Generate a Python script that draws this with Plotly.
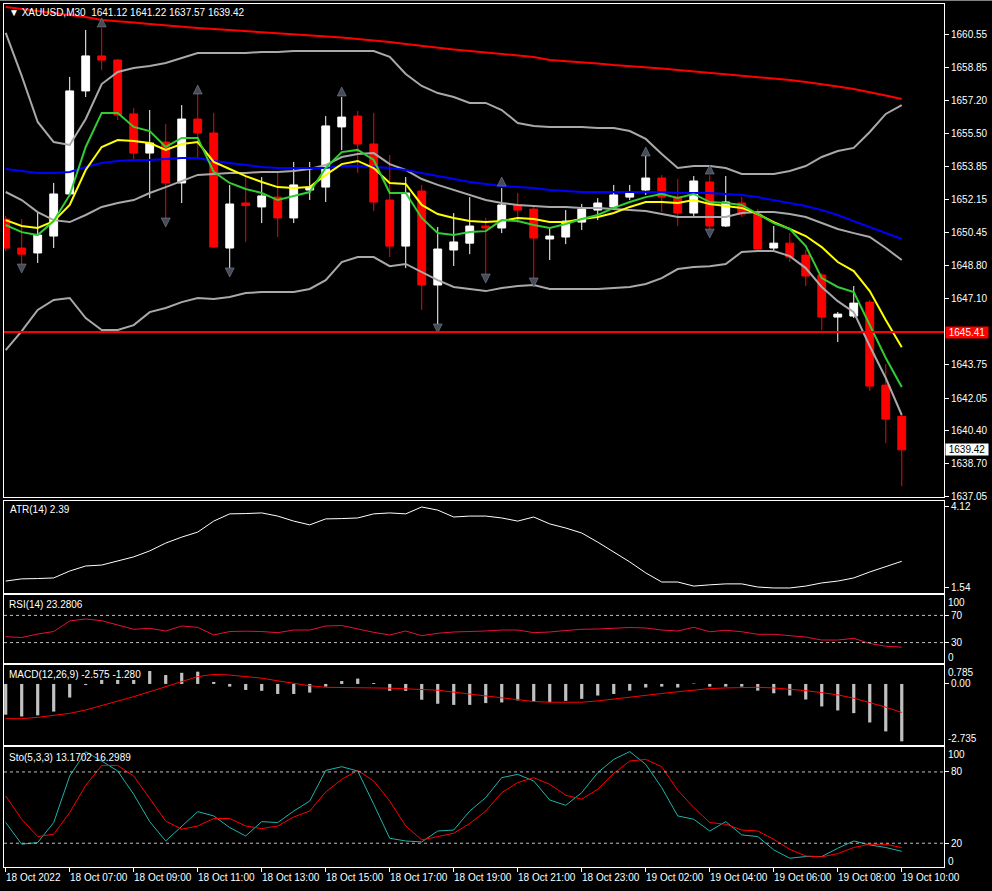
import plotly.graph_objects as go
from plotly.subplots import make_subplots

# ---------------- data ----------------
times = [f"18 Oct {h:02d}:{m:02d}" for h in range(5, 24) for m in (0, 30)]
times += [f"19 Oct {h:02d}:{m:02d}" for h in range(1, 11) for m in (0, 30)][:19]

tick_labels = ["18 Oct 2022", "18 Oct 07:00", "18 Oct 09:00", "18 Oct 11:00", "18 Oct 13:00",
               "18 Oct 15:00", "18 Oct 17:00", "18 Oct 19:00", "18 Oct 21:00", "18 Oct 23:00",
               "19 Oct 02:00", "19 Oct 04:00", "19 Oct 06:00", "19 Oct 08:00", "19 Oct 10:00"]
tick_idx = list(range(0, 57, 4))

opens = [1651.15, 1649.68, 1649.43, 1650.29, 1652.43, 1657.67, 1659.45, 1659.24, 1656.50, 1654.51,
         1655.07, 1652.99, 1656.24, 1655.53, 1649.68, 1651.97, 1651.77, 1652.27, 1651.21, 1652.63,
         1652.78, 1655.84, 1656.39, 1654.97, 1652.12, 1649.78, 1652.58, 1647.80, 1649.58, 1649.93,
         1650.80, 1650.70, 1651.87, 1651.66, 1650.14, 1650.24, 1651.00, 1651.61, 1651.77, 1652.27,
         1652.63, 1653.24, 1652.27, 1651.46, 1653.04, 1650.80, 1651.97, 1651.41, 1649.68, 1649.93,
         1649.32, 1648.31, 1646.17, 1646.22, 1646.93, 1642.71, 1641.12]
highs = [1651.31, 1651.15, 1651.51, 1652.99, 1658.38, 1660.77, 1660.87, 1659.29, 1656.80, 1656.70,
         1655.99, 1656.95, 1657.51, 1656.55, 1652.89, 1653.29, 1653.29, 1653.50, 1654.06, 1654.06,
         1656.39, 1657.36, 1656.65, 1656.55, 1654.41, 1653.29, 1652.89, 1650.75, 1651.46, 1652.27,
         1651.21, 1652.73, 1652.48, 1651.87, 1650.70, 1651.61, 1651.92, 1652.22, 1652.89, 1652.89,
         1654.41, 1653.39, 1653.19, 1653.34, 1653.39, 1653.34, 1652.27, 1651.66, 1650.80, 1650.44,
         1649.58, 1648.41, 1646.43, 1647.75, 1647.04, 1643.78, 1641.22]
lows = [1649.53, 1648.71, 1648.92, 1649.68, 1652.33, 1657.36, 1658.73, 1656.19, 1654.21, 1652.22,
        1651.00, 1651.97, 1654.26, 1649.68, 1648.61, 1649.99, 1650.95, 1650.24, 1650.95, 1652.12,
        1652.02, 1654.66, 1653.50, 1651.56, 1649.22, 1648.66, 1646.53, 1645.76, 1648.77, 1649.37,
        1648.26, 1650.44, 1650.95, 1648.10, 1649.07, 1649.88, 1650.60, 1651.10, 1651.61, 1652.12,
        1652.38, 1651.51, 1650.80, 1651.21, 1650.60, 1650.75, 1651.26, 1649.48, 1649.58, 1648.97,
        1647.75, 1645.51, 1644.90, 1646.12, 1642.41, 1639.76, 1637.57]
closes = [1649.68, 1649.37, 1650.34, 1652.43, 1657.67, 1659.45, 1659.24, 1656.45, 1654.51, 1655.02,
          1652.99, 1656.24, 1655.53, 1649.73, 1651.92, 1651.84, 1652.33, 1651.21, 1652.89, 1652.78,
          1655.89, 1656.34, 1654.97, 1652.02, 1649.78, 1652.48, 1647.80, 1649.63, 1649.99, 1650.80,
          1650.70, 1651.87, 1651.61, 1650.19, 1650.29, 1651.05, 1651.66, 1651.97, 1652.38, 1652.48,
          1653.24, 1652.27, 1651.46, 1653.09, 1650.80, 1652.02, 1651.41, 1649.63, 1649.93, 1649.22,
          1648.26, 1646.17, 1646.32, 1646.88, 1642.66, 1640.98, 1639.42]

ma_red = [1661.94, 1661.84, 1661.74, 1661.63, 1661.53, 1661.43, 1661.28, 1661.23, 1661.15, 1661.07,
          1661.00, 1660.92, 1660.87, 1660.82, 1660.77, 1660.72, 1660.67, 1660.62, 1660.57, 1660.51,
          1660.46, 1660.39, 1660.31, 1660.24, 1660.16, 1660.06, 1659.96, 1659.85, 1659.78, 1659.70,
          1659.62, 1659.55, 1659.47, 1659.40, 1659.24, 1659.19, 1659.14, 1659.07, 1658.99, 1658.94,
          1658.89, 1658.81, 1658.73, 1658.66, 1658.58, 1658.53, 1658.46, 1658.38, 1658.30, 1658.23,
          1658.12, 1658.02, 1657.90, 1657.77, 1657.62, 1657.44, 1657.26]
ma_blue = [1653.70, 1653.60, 1653.50, 1653.50, 1653.55, 1653.80, 1654.00, 1654.11, 1654.16, 1654.16,
           1654.21, 1654.26, 1654.26, 1654.11, 1654.00, 1653.90, 1653.80, 1653.75, 1653.75, 1653.75,
           1653.75, 1653.85, 1653.85, 1653.80, 1653.75, 1653.65, 1653.50, 1653.34, 1653.19, 1653.04,
           1652.94, 1652.83, 1652.78, 1652.73, 1652.63, 1652.58, 1652.53, 1652.53, 1652.53, 1652.53,
           1652.53, 1652.53, 1652.48, 1652.48, 1652.48, 1652.43, 1652.38, 1652.27, 1652.12, 1651.97,
           1651.82, 1651.61, 1651.36, 1651.05, 1650.75, 1650.44, 1650.14]
ma_yellow = [1651.10, 1650.80, 1650.70, 1651.05, 1651.87, 1653.65, 1654.82, 1655.17, 1655.12, 1655.02,
             1654.67, 1654.97, 1655.07, 1654.06, 1653.70, 1653.34, 1653.04, 1652.78, 1652.73, 1652.78,
             1653.40, 1653.95, 1654.11, 1653.75, 1652.99, 1652.94, 1651.87, 1651.41, 1651.21, 1651.05,
             1651.00, 1651.05, 1651.21, 1651.16, 1651.00, 1651.00, 1651.16, 1651.26, 1651.46, 1651.77,
             1652.02, 1652.02, 1651.97, 1652.12, 1651.92, 1651.82, 1651.72, 1651.41, 1651.00, 1650.65,
             1650.29, 1649.73, 1648.97, 1648.51, 1647.49, 1646.02, 1644.63]
ma_green = [1650.85, 1650.49, 1650.34, 1651.05, 1652.38, 1654.82, 1656.55, 1656.55, 1655.84, 1655.63,
            1654.82, 1655.28, 1655.28, 1653.55, 1652.99, 1652.68, 1652.48, 1652.12, 1652.33, 1652.53,
            1653.75, 1654.56, 1654.67, 1654.16, 1652.48, 1652.48, 1651.21, 1650.44, 1650.34, 1650.49,
            1650.54, 1651.10, 1651.05, 1650.85, 1650.70, 1650.90, 1651.16, 1651.36, 1651.72, 1652.02,
            1652.27, 1652.43, 1652.22, 1652.43, 1652.02, 1651.97, 1651.87, 1651.41, 1650.95, 1650.65,
            1649.78, 1648.15, 1647.70, 1647.44, 1645.76, 1644.09, 1642.61]
bb_upper = [1660.62, 1658.43, 1656.09, 1655.07, 1654.92, 1656.24, 1658.02, 1658.63, 1658.84, 1658.94,
            1659.09, 1659.35, 1659.60, 1659.60, 1659.60, 1659.60, 1659.65, 1659.65, 1659.70, 1659.70,
            1659.70, 1659.70, 1659.70, 1659.70, 1659.40, 1658.53, 1657.92, 1657.56, 1657.36, 1657.06,
            1657.06, 1656.70, 1656.04, 1655.89, 1655.84, 1655.84, 1655.84, 1655.78, 1655.78, 1655.63,
            1655.23, 1654.46, 1653.75, 1653.85, 1653.85, 1653.75, 1653.45, 1653.45, 1653.45, 1653.60,
            1653.85, 1654.31, 1654.61, 1654.77, 1655.58, 1656.50, 1656.95]
bb_middle = [1652.53, 1652.12, 1651.51, 1651.10, 1651.00, 1651.36, 1651.77, 1651.97, 1652.12, 1652.48,
             1652.78, 1653.09, 1653.40, 1653.45, 1653.50, 1653.50, 1653.55, 1653.55, 1653.60, 1653.70,
             1653.90, 1654.31, 1654.46, 1654.51, 1653.95, 1653.65, 1653.19, 1652.89, 1652.63, 1652.38,
             1652.12, 1651.97, 1651.87, 1651.82, 1651.77, 1651.77, 1651.72, 1651.72, 1651.67, 1651.61,
             1651.56, 1651.41, 1651.26, 1651.26, 1651.26, 1651.26, 1651.46, 1651.51, 1651.51, 1651.41,
             1651.26, 1650.95, 1650.65, 1650.44, 1650.24, 1649.68, 1649.07]
bb_lower = [1644.49, 1645.46, 1646.53, 1647.04, 1647.14, 1646.12, 1645.51, 1645.51, 1645.76, 1646.42,
            1646.63, 1646.93, 1647.14, 1647.09, 1647.19, 1647.39, 1647.44, 1647.44, 1647.44, 1647.60,
            1648.05, 1648.97, 1649.22, 1649.22, 1648.76, 1648.87, 1648.46, 1648.05, 1647.70, 1647.60,
            1647.49, 1647.65, 1647.75, 1647.80, 1647.60, 1647.60, 1647.60, 1647.60, 1647.65, 1647.70,
            1647.85, 1648.15, 1648.61, 1648.71, 1648.76, 1648.87, 1649.48, 1649.53, 1649.53, 1649.27,
            1648.66, 1647.70, 1646.98, 1646.42, 1644.70, 1643.07, 1641.19]

frac_up_idx = [6, 12, 21, 31, 40, 44]
frac_up_val = [1661.38, 1657.97, 1657.87, 1653.29, 1654.82, 1653.90]
frac_dn_idx = [1, 10, 14, 27, 30, 33, 44]
frac_dn_val = [1648.41, 1650.75, 1648.21, 1645.36, 1647.90, 1647.70, 1650.19]

hline_price = 1645.41
last_price = 1639.42
price_ticks = [1660.55, 1658.85, 1657.20, 1655.50, 1653.85, 1652.15, 1650.45, 1648.80,
               1647.10, 1643.75, 1642.05, 1640.40, 1638.70, 1637.05]

atr = [1.76, 1.83, 1.84, 1.86, 2.08, 2.24, 2.27, 2.40, 2.53, 2.72,
       2.97, 3.16, 3.32, 3.67, 3.90, 3.91, 3.93, 3.83, 3.67, 3.55,
       3.74, 3.75, 3.77, 3.90, 3.93, 3.90, 4.12, 4.02, 3.80, 3.83,
       3.83, 3.77, 3.67, 3.80, 3.58, 3.45, 3.29, 3.00, 2.69, 2.37,
       2.02, 1.73, 1.73, 1.60, 1.64, 1.67, 1.67, 1.57, 1.54, 1.54,
       1.60, 1.70, 1.76, 1.86, 2.05, 2.21, 2.39]
rsi = [38.7, 37.5, 42.6, 46.3, 61.8, 64.7, 62.2, 55.9, 49.6, 51.0,
       47.1, 54.4, 52.5, 41.2, 46.3, 46.8, 46.3, 44.6, 48.5, 48.5,
       54.4, 55.1, 50.0, 45.1, 41.2, 47.1, 40.1, 43.7, 45.6, 45.9,
       47.1, 48.5, 48.5, 44.6, 45.6, 47.8, 49.6, 50.0, 50.7, 52.2,
       51.5, 48.5, 47.1, 52.5, 46.0, 48.1, 46.0, 42.2, 42.2, 40.4,
       38.2, 33.8, 33.8, 36.3, 28.7, 24.7, 23.28]
macd = [-1.38, -1.46, -1.41, -1.24, -0.61, -0.05, 0.18, 0.18, 0.18, 0.58,
        0.40, 0.50, 0.55, 0.09, -0.12, -0.27, -0.31, -0.45, -0.45, -0.39,
        -0.12, 0.13, 0.24, 0.04, -0.31, -0.31, -0.71, -0.89, -0.94, -0.94,
        -0.86, -0.83, -0.74, -0.79, -0.82, -0.76, -0.67, -0.52, -0.45, -0.30,
        -0.16, -0.12, -0.16, 0.02, -0.12, -0.12, -0.12, -0.30, -0.42, -0.52,
        -0.70, -1.01, -1.19, -1.31, -1.73, -2.13, -2.575]
macd_signal = [-1.56, -1.56, -1.50, -1.42, -1.32, -1.17, -0.98, -0.78, -0.57, -0.35,
               -0.12, 0.10, 0.33, 0.43, 0.40, 0.33, 0.26, 0.14, 0.02, -0.08,
               -0.15, -0.17, -0.18, -0.18, -0.19, -0.21, -0.23, -0.28, -0.37, -0.46,
               -0.55, -0.64, -0.72, -0.79, -0.82, -0.82, -0.82, -0.76, -0.67, -0.59,
               -0.51, -0.43, -0.35, -0.28, -0.21, -0.18, -0.16, -0.15, -0.18, -0.23,
               -0.30, -0.39, -0.49, -0.64, -0.83, -1.04, -1.28]
sto_k = [37.4, 19.2, 20.6, 37.4, 76.6, 97.0, 89.2, 80.8, 61.2, 38.2,
         21.9, 34.5, 46.6, 43.0, 33.2, 26.1, 38.2, 37.4, 47.1, 55.5,
         81.3, 84.4, 80.8, 52.8, 24.2, 21.9, 21.1, 30.3, 31.1, 47.1,
         58.4, 75.2, 78.0, 72.4, 56.4, 51.9, 62.6, 79.4, 90.6, 97.1,
         86.4, 66.8, 43.0, 40.2, 30.3, 38.2, 27.0, 25.6, 14.4, 7.4,
         8.8, 8.8, 15.8, 21.9, 18.6, 16.4, 13.17]
sto_d = [59.8, 40.2, 25.6, 27.6, 45.8, 68.7, 85.5, 85.5, 76.6, 57.1,
         38.7, 31.8, 34.5, 40.8, 40.8, 34.5, 32.3, 34.5, 42.1, 47.1,
         63.1, 73.8, 81.3, 72.4, 55.5, 34.5, 22.8, 25.6, 28.4, 36.6,
         47.1, 62.6, 71.0, 75.2, 69.6, 60.4, 57.1, 65.4, 78.8, 89.2,
         90.6, 84.4, 64.6, 50.1, 37.4, 36.0, 31.1, 30.3, 23.3, 14.9,
         9.3, 8.5, 11.3, 16.4, 19.2, 19.2, 16.30]

title_text = "\u25BC XAUUSD,M30  1641.12 1641.22 1637.57 1639.42"
atr_text = "ATR(14) 2.39"
rsi_text = "RSI(14) 23.2806"
macd_text = "MACD(12,26,9) -2.575 -1.280"
sto_text = "Sto(5,3,3) 13.1702 16.2989"

# ---------------- figure ----------------
FONT = "Liberation Sans, Arial, sans-serif"
FS = 10
GRAY = "#A9A9A9"

fig = make_subplots(rows=5, cols=1, shared_xaxes=True, vertical_spacing=0)

fig.add_trace(go.Candlestick(
    x=times, open=opens, high=highs, low=lows, close=closes,
    increasing=dict(line=dict(color="#FFFFFF", width=1), fillcolor="#FFFFFF"),
    decreasing=dict(line=dict(color="#FF0000", width=1), fillcolor="#FF0000"),
    whiskerwidth=0, hoverinfo="skip", showlegend=False), row=1, col=1)

for series, color, w in [(bb_upper, GRAY, 2), (bb_middle, GRAY, 2), (bb_lower, GRAY, 2),
                         (ma_red, "#FF0000", 2), (ma_blue, "#0000FF", 2),
                         (ma_yellow, "#FFFF00", 2), (ma_green, "#32CD32", 2)]:
    fig.add_trace(go.Scatter(x=times, y=series, mode="lines",
                             line=dict(color=color, width=w), hoverinfo="skip",
                             showlegend=False), row=1, col=1)

fig.add_trace(go.Scatter(x=[times[i] for i in frac_up_idx], y=frac_up_val, mode="markers",
                         marker=dict(symbol="arrow-up", size=9, color="#444C5A",
                                     line=dict(color="#7A808C", width=0.6)),
                         hoverinfo="skip", showlegend=False), row=1, col=1)
fig.add_trace(go.Scatter(x=[times[i] for i in frac_dn_idx], y=frac_dn_val, mode="markers",
                         marker=dict(symbol="arrow-down", size=9, color="#444C5A",
                                     line=dict(color="#7A808C", width=0.6)),
                         hoverinfo="skip", showlegend=False), row=1, col=1)

fig.add_trace(go.Scatter(x=times, y=atr, mode="lines", line=dict(color="#FFFFFF", width=1),
                         hoverinfo="skip", showlegend=False), row=2, col=1)
fig.add_trace(go.Scatter(x=times, y=rsi, mode="lines", line=dict(color="#E8103A", width=1),
                         hoverinfo="skip", showlegend=False), row=3, col=1)
fig.add_trace(go.Bar(x=times, y=macd, marker=dict(color="#C0C0C0", line=dict(width=0)),
                     width=0.2, hoverinfo="skip", showlegend=False), row=4, col=1)
fig.add_trace(go.Scatter(x=times, y=macd_signal, mode="lines", line=dict(color="#FF0000", width=1),
                         hoverinfo="skip", showlegend=False), row=4, col=1)
fig.add_trace(go.Scatter(x=times, y=sto_k, mode="lines", line=dict(color="#20B2AA", width=1),
                         hoverinfo="skip", showlegend=False), row=5, col=1)
fig.add_trace(go.Scatter(x=times, y=sto_d, mode="lines", line=dict(color="#FF0000", width=1),
                         hoverinfo="skip", showlegend=False), row=5, col=1)

# axes
xr = [-0.106, 58.64]
for r in range(1, 6):
    fig.update_xaxes(type="category", range=xr, showgrid=False, zeroline=False,
                     showline=True, mirror=True, linecolor="#FFFFFF", linewidth=1,
                     showticklabels=False, ticks="", fixedrange=True,
                     rangeslider=dict(visible=False), row=r, col=1)
fig.update_xaxes(ticks="outside", ticklen=4, tickcolor="#FFFFFF",
                 tickvals=[times[i] for i in tick_idx], row=5, col=1)

yax = dict(side="right", showgrid=False, zeroline=False, showline=True, mirror=True,
           linecolor="#FFFFFF", linewidth=1, ticks="outside", ticklen=4, tickcolor="#FFFFFF",
           tickfont=dict(family=FONT, size=FS, color="#FFFFFF"), fixedrange=True)

H = 863.0
def dom(top_px, bot_px):
    return [(867 - bot_px) / H, (867 - top_px) / H]

fig.update_layout(
    yaxis=dict(yax, domain=dom(4, 497), range=[1637.02, 1662.09],
               tickvals=price_ticks, ticktext=[f"{v:.2f}" for v in price_ticks]),
    yaxis2=dict(yax, domain=dom(501, 593), range=[1.38, 4.31],
                tickvals=[4.12, 1.54], ticktext=["4.12", "1.54"]),
    yaxis3=dict(yax, domain=dom(595, 663), range=[0, 100],
                tickvals=[70, 30], ticktext=["70", "30"]),
    yaxis4=dict(yax, domain=dom(665, 745), range=[-2.74, 0.85],
                tickvals=[0], ticktext=["0.00"]),
    yaxis5=dict(yax, domain=dom(747, 867), range=[0, 101],
                tickvals=[80, 20], ticktext=["80", "20"]),
)

shapes = [
    dict(type="line", xref="paper", yref="y", x0=0, x1=1, y0=hline_price, y1=hline_price,
         line=dict(color="#FF0000", width=2)),
    dict(type="line", xref="paper", yref="y3", x0=0, x1=1, y0=70, y1=70,
         line=dict(color="#C0C0C0", width=1, dash="3px,3px")),
    dict(type="line", xref="paper", yref="y3", x0=0, x1=1, y0=30, y1=30,
         line=dict(color="#C0C0C0", width=1, dash="3px,3px")),
    dict(type="line", xref="paper", yref="y5", x0=0, x1=1, y0=80, y1=80,
         line=dict(color="#C0C0C0", width=1, dash="3px,3px")),
    dict(type="line", xref="paper", yref="y5", x0=0, x1=1, y0=20, y1=20,
         line=dict(color="#C0C0C0", width=1, dash="3px,3px")),
    dict(type="line", xref="paper", yref="paper", x0=-4 / 940, x1=988 / 940,
         y0=866.5 / H, y1=866.5 / H, line=dict(color="#808080", width=1)),
]

def pann(text, px, py, **kw):
    return dict(text=text, xref="paper", yref="paper", x=(px - 4) / 940, y=(867 - py) / H,
                xanchor="left", yanchor="middle", showarrow=False,
                font=dict(family=FONT, size=FS, color="#FFFFFF"), **kw)

ann = [
    pann(title_text, 7, 13),
    pann(atr_text, 8, 510),
    pann(rsi_text, 7, 604),
    pann(macd_text, 7, 674),
    pann(sto_text, 7, 757),
]
# x-axis labels (MT4 style: text starts at the tick)
for i, lab in zip(tick_idx, tick_labels):
    ann.append(dict(text=lab, xref="x5", yref="paper", x=i, y=(867 - 877.5) / H,
                    xanchor="left", yanchor="middle", xshift=-2, showarrow=False,
                    font=dict(family=FONT, size=FS, color="#FFFFFF")))

def rlab(text, yref, yval, yshift):
    return dict(text=text, xref="paper", yref=yref, x=1, y=yval, xanchor="left",
                yanchor="middle", xshift=2, yshift=yshift, showarrow=False,
                font=dict(family=FONT, size=FS, color="#FFFFFF"))

ann += [
    rlab("100", "y3", 100, -7), rlab("0", "y3", 0, 6),
    rlab("0.785", "y4", 0.785, -6), rlab("-2.735", "y4", -2.735, 6),
    rlab("100", "y5", 100, -6), rlab("0", "y5", 0, 6),
]
ann.append(dict(text=f"{hline_price:.2f}", xref="paper", yref="y", x=1, y=hline_price,
                xanchor="left", yanchor="middle", xshift=1, showarrow=False,
                bgcolor="#FF0000", borderpad=0, width=42, height=11,
                font=dict(family=FONT, size=FS, color="#FFFFFF")))
ann.append(dict(text=f"{last_price:.2f}", xref="paper", yref="y", x=1, y=last_price,
                xanchor="left", yanchor="middle", xshift=1, showarrow=False,
                bgcolor="#FFFFFF", borderpad=0, width=42, height=11,
                font=dict(family=FONT, size=FS, color="#000000")))

fig.update_layout(
    width=992, height=891,
    margin=dict(l=4, r=48, t=4, b=24),
    paper_bgcolor="#000000", plot_bgcolor="#000000",
    showlegend=False, hovermode=False, boxgap=0.3,
    shapes=shapes, annotations=ann,
    font=dict(family=FONT, size=FS, color="#FFFFFF"),
)

fig.write_html("out.html",
               config={"displayModeBar": False, "staticPlot": True},
               post_script="document.body.style.margin='0';"
                           "document.body.style.background='#000';"
                           "document.body.style.overflow='hidden';")
